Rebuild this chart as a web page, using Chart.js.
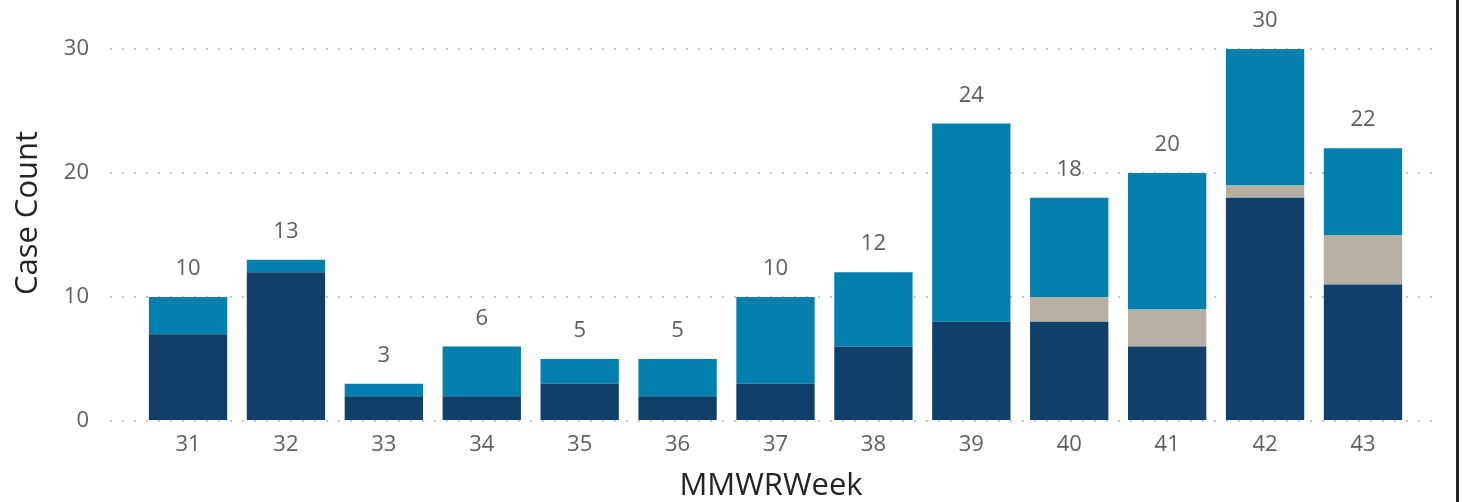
<!DOCTYPE html>
<html>
<head>
<meta charset="utf-8">
<script src="https://cdn.jsdelivr.net/npm/chart.js@4/dist/chart.umd.min.js"></script>
<style>
  html, body { margin: 0; padding: 0; background: #fff; }
  #wrap { width: 1456px; height: 502px; border-right: 3px solid #262626; position: relative; }
</style>
</head>
<body>
<div id="wrap"><canvas id="myChart"></canvas></div>
<script>
var weeks = [31, 32, 33, 34, 35, 36, 37, 38, 39, 40, 41, 42, 43];
var confirmed = [7, 12, 2, 2, 3, 2, 3, 6, 8, 8, 6, 18, 11];
var probable = [0, 0, 0, 0, 0, 0, 0, 0, 0, 2, 3, 1, 4];
var other = [3, 1, 1, 4, 2, 3, 7, 6, 16, 8, 11, 11, 7];
var yTicks = [0, 10, 20, 30];
var yTitle = 'Case Count';

var fontFamily = "'Segoe UI', 'Open Sans', sans-serif";

function pts(vals) {
  return vals.map(function (v, i) { return { x: weeks[i], y: v }; });
}

// totals written above each stack
var totalLabels = {
  id: 'totalLabels',
  afterDatasetsDraw: function (chart) {
    var c = chart.ctx;
    var xs = chart.scales.x, ys = chart.scales.y;
    c.save();
    c.font = '22px ' + fontFamily;
    c.fillStyle = '#605E5C';
    c.textAlign = 'center';
    c.textBaseline = 'middle';
    weeks.forEach(function (w, i) {
      var total = confirmed[i] + probable[i] + other[i];
      c.fillText(String(total), xs.getPixelForValue(w), ys.getPixelForValue(total) - 28);
    });
    c.restore();
  }
};

// y title sits a bit above the middle of the plot, like the original
var yTitlePlugin = {
  id: 'yTitlePlugin',
  afterDraw: function (chart) {
    var c = chart.ctx;
    var area = chart.chartArea;
    c.save();
    c.translate(28, (area.top + area.bottom) / 2 - 22);
    c.rotate(-Math.PI / 2);
    c.font = '31px ' + fontFamily;
    c.fillStyle = '#252423';
    c.textAlign = 'center';
    c.textBaseline = 'middle';
    c.fillText(yTitle, 0, 0);
    c.restore();
  }
};

var ctx = document.getElementById('myChart');

var myChart = new Chart(ctx, {
  type: 'bar',
  data: {
    datasets: [{
      label: 'Confirmed',
      data: pts(confirmed),
      backgroundColor: '#10406A'
    }, {
      label: 'Probable',
      data: pts(probable),
      backgroundColor: '#B6AFA3'
    }, {
      label: 'Other',
      data: pts(other),
      backgroundColor: '#0380AE'
    }]
  },
  options: {
    responsive: true,
    maintainAspectRatio: false,
    animation: false,
    categoryPercentage: 1,
    barPercentage: 0.8,
    layout: { padding: { top: 49, right: 24, bottom: 0, left: 0 } },
    plugins: {
      legend: { display: false },
      tooltip: { enabled: false }
    },
    scales: {
      x: {
        type: 'linear',
        stacked: true,
        offset: false,
        min: 30.203,
        max: 43.705,
        afterFit: function (scale) { scale.height = 81; },
        afterBuildTicks: function (scale) {
          scale.ticks = weeks.map(function (w) { return { value: w }; });
        },
        grid: { display: false, drawTicks: false },
        border: { display: false },
        ticks: {
          color: '#605E5C',
          padding: 11,
          font: { family: fontFamily, size: 22 }
        },
        title: {
          display: true,
          text: 'MMWRWeek',
          color: '#252423',
          padding: { top: 0, bottom: 0 },
          font: { family: fontFamily, size: 31, lineHeight: 1 }
        }
      },
      y: {
        stacked: true,
        min: 0,
        max: 30,
        afterFit: function (scale) { scale.width = 110; },
        afterBuildTicks: function (scale) {
          scale.ticks = yTicks.map(function (v) { return { value: v }; });
        },
        grid: {
          color: '#C8C8C8',
          lineWidth: 2,
          drawTicks: false
        },
        border: { display: false, dash: [2, 10] },
        ticks: {
          color: '#605E5C',
          padding: 21,
          font: { family: fontFamily, size: 22 }
        }
      }
    }
  },
  plugins: [totalLabels, yTitlePlugin]
});
</script>
</body>
</html>
